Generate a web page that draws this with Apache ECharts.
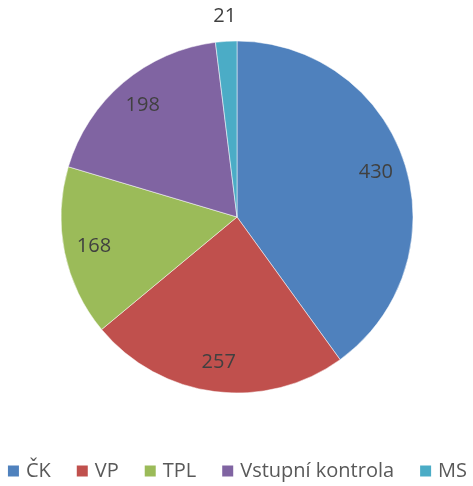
<!DOCTYPE html>
<html>
	<head>
		<meta charset="utf-8" />
		<title>pie</title>
		<script src="https://cdn.jsdelivr.net/npm/echarts@6/dist/echarts.min.js"></script>
		<style>
			html, body { margin: 0; padding: 0; background: #fff; }
			#chart { width: 473px; height: 486px; }
		</style>
	</head>
	<body>
		<div id="chart"></div>
		<script type="text/javascript">
			var categories = ['ČK', 'VP', 'TPL', 'Vstupní kontrola', 'MS'];
			var values = [430, 257, 168, 198, 21];
			var colors = ['#4f81bd', '#c0504d', '#9bbb59', '#8064a2', '#4bacc6'];

			var cx = 237, cy = 217, R = 176;

			var pieData = [];
			var innerLabels = [];
			var outerLabels = [];
			for (var i = 0; i < categories.length; i++) {
				pieData.push({ name: categories[i], value: values[i], itemStyle: { color: colors[i] } });
				// big slices get the label inside, the tiny one above the pie
				innerLabels.push({ name: categories[i], value: values[i], label: { show: values[i] > 50 } });
				outerLabels.push({ name: categories[i], value: values[i], label: { show: values[i] <= 50 } });
			}

			var labelStyle = {
				position: 'inside',
				formatter: '{c}',
				fontSize: 20,
				color: '#404040',
				fontFamily: 'Open Sans'
			};

			function labelSeries(outer, data) {
				return {
					type: 'pie',
					center: [cx, cy],
					radius: [0, outer],
					startAngle: 90,
					clockwise: true,
					silent: true,
					legendHoverLink: false,
					itemStyle: { color: 'rgba(0,0,0,0)' },
					label: labelStyle,
					labelLine: { show: false },
					data: data
				};
			}

			var myChart = echarts.init(document.getElementById('chart'));
			var option = {
				animation: false,
				legend: {
					bottom: 0,
					left: 'center',
					icon: 'rect',
					itemWidth: 13,
					itemHeight: 13,
					itemGap: 24,
					textStyle: { fontSize: 20, color: '#595959', fontFamily: 'Open Sans', padding: [0, 0, 0, 1] },
					data: categories
				},
				series: [{
						type: 'pie',
						center: [cx, cy],
						radius: [0, R],
						startAngle: 90,
						clockwise: true,
						label: { show: false },
						labelLine: { show: false },
						itemStyle: { borderColor: '#fff', borderWidth: 0.5 },
						emphasis: { disabled: true },
						data: pieData
					},
					labelSeries(286, innerLabels),
					labelSeries(396, outerLabels)
				]
			};
			myChart.setOption(option);
		</script>
	</body>
</html>
